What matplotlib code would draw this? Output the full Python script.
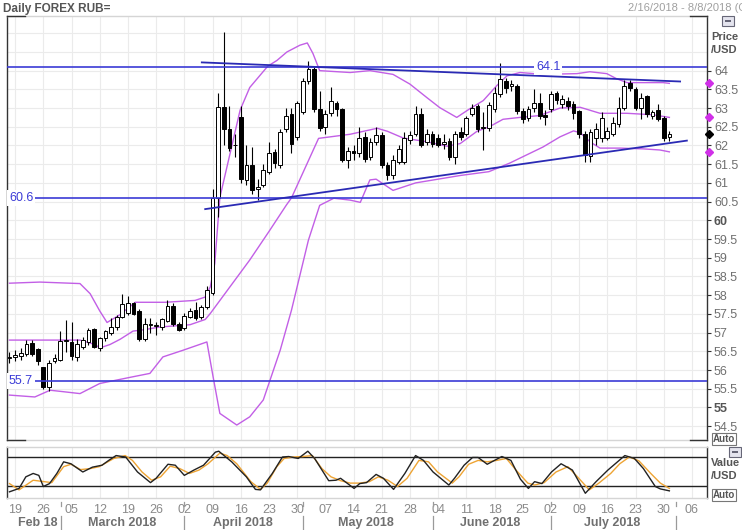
import numpy as np
import matplotlib.pyplot as plt
import matplotlib.transforms as mtransforms
from matplotlib.lines import Line2D
from matplotlib.patches import Rectangle

# trading-day index 0 = Fri 16 Feb 2018, last candle = Tue 31 Jul 2018
opens = [56.33, 56.36, 56.38, 56.43, 56.73, 56.56, 56.07, 55.55, 56.23, 56.27,
         56.77, 56.75, 56.34, 56.62, 56.74, 57.10, 56.58, 56.86, 56.98, 57.15,
         57.42, 57.53, 57.78, 57.58, 56.83, 57.20, 57.18, 57.16, 57.32, 57.72,
         57.23, 57.13, 57.41, 57.61, 57.41, 57.68, 58.05, 60.60, 63.03, 62.43,
         62.00, 62.76, 61.08, 61.48, 60.85, 60.95, 61.30, 61.83, 61.48, 62.43,
         62.84, 62.24, 62.90, 63.73, 64.05, 62.97, 62.50, 62.86, 63.13, 62.97,
         61.62, 61.84, 61.80, 62.24, 61.70, 62.10, 62.27, 61.48, 61.20, 61.56,
         61.56, 62.15, 62.30, 62.84, 62.10, 62.30, 62.19, 62.05, 62.13, 61.70,
         62.37, 62.30, 62.84, 63.05, 62.48, 62.48, 62.97, 63.38, 63.73, 63.60,
         63.60, 62.92, 62.73, 63.00, 63.13, 62.82, 62.97, 63.40, 63.10, 63.20,
         63.10, 62.92, 62.32, 61.73, 62.20, 62.19, 62.20, 62.30, 62.57, 63.00,
         63.68, 63.50, 63.00, 63.32, 62.80, 62.95, 62.73, 62.24]
closes = [56.36, 56.39, 56.46, 56.70, 56.43, 56.23, 55.55, 56.18, 56.32, 56.77,
          56.78, 56.37, 56.69, 56.81, 57.07, 56.61, 56.86, 57.04, 57.14, 57.42,
          57.77, 57.78, 57.51, 56.83, 57.23, 57.20, 57.18, 57.35, 57.72, 57.23,
          57.08, 57.45, 57.57, 57.38, 57.68, 58.13, 60.60, 63.03, 62.43, 61.92,
          62.02, 61.10, 61.48, 60.80, 60.90, 61.35, 61.80, 61.52, 62.37, 62.78,
          62.05, 63.13, 63.73, 64.05, 62.97, 62.46, 62.85, 63.19, 62.97, 61.62,
          61.84, 61.80, 62.20, 61.65, 62.10, 62.27, 61.48, 61.20, 61.60, 61.90,
          62.20, 62.28, 62.84, 62.02, 62.30, 62.05, 62.02, 62.10, 61.70, 62.30,
          62.24, 62.73, 63.00, 62.43, 62.48, 63.08, 63.40, 63.78, 63.54, 63.65,
          62.92, 62.70, 62.97, 63.13, 62.78, 62.76, 63.38, 63.22, 63.24, 63.05,
          62.86, 62.32, 61.75, 62.37, 62.43, 62.73, 62.40, 62.60, 63.00, 63.60,
          63.54, 63.00, 63.27, 62.84, 62.90, 62.70, 62.19, 62.32]
highs = [56.48, 56.53, 56.58, 56.80, 56.80, 56.58, 56.08, 56.28, 56.43, 57.04,
         57.34, 57.28, 56.83, 56.88, 57.13, 57.13, 56.88, 57.08, 57.38, 57.48,
         58.04, 57.98, 57.83, 57.63, 57.38, 57.38, 57.28, 57.38, 57.88, 57.78,
         57.28, 57.53, 57.66, 57.83, 57.73, 58.25, 60.85, 63.40, 65.04, 63.05,
         62.30, 63.05, 62.00, 61.95, 61.10, 61.50, 62.10, 61.90, 62.45, 63.00,
         63.00, 63.20, 63.80, 64.27, 64.10, 63.45, 62.95, 63.55, 63.20, 63.00,
         61.95, 62.00, 62.50, 62.35, 62.20, 62.50, 62.35, 61.55, 61.75, 62.00,
         62.35, 62.40, 63.05, 63.00, 62.45, 62.40, 62.30, 62.30, 62.20, 62.40,
         62.50, 62.80, 63.10, 63.10, 62.90, 63.15, 63.55, 64.20, 63.80, 63.75,
         63.65, 63.00, 63.05, 63.50, 63.40, 62.95, 63.45, 63.45, 63.35, 63.30,
         63.20, 62.95, 62.40, 62.45, 62.60, 62.90, 62.50, 62.75, 63.30, 63.75,
         63.75, 63.55, 63.40, 63.35, 62.95, 63.10, 62.78, 62.40]
lows = [56.18, 56.23, 56.28, 56.38, 56.38, 56.13, 55.50, 55.43, 56.18, 56.23,
        56.48, 56.28, 56.23, 56.56, 56.68, 56.58, 56.50, 56.78, 56.93, 57.08,
        57.38, 57.48, 57.46, 56.78, 56.78, 56.98, 56.93, 57.08, 57.28, 57.18,
        57.03, 57.08, 57.38, 57.33, 57.36, 57.63, 58.00, 60.10, 62.02, 61.85,
        61.70, 61.00, 60.95, 60.70, 60.54, 60.90, 61.25, 61.40, 61.40, 62.35,
        61.80, 62.15, 62.85, 63.65, 62.90, 62.40, 62.30, 62.80, 62.80, 61.55,
        61.40, 61.60, 61.70, 61.55, 61.60, 62.00, 61.40, 61.08, 61.10, 61.50,
        61.50, 62.05, 62.25, 61.95, 62.00, 61.95, 61.95, 61.90, 61.60, 61.50,
        62.15, 62.25, 62.80, 62.35, 61.89, 62.40, 62.90, 63.30, 63.40, 63.45,
        62.85, 62.60, 62.65, 62.90, 62.70, 62.55, 62.90, 63.10, 63.00, 62.95,
        62.70, 62.20, 61.56, 61.56, 62.00, 62.10, 62.15, 62.25, 62.50, 62.95,
        63.45, 62.95, 62.70, 62.75, 62.70, 62.65, 62.12, 62.12]

# Bollinger bands (day index, value)
bb_upper_idx = [0, 5.4, 12.5, 14.3, 16.0, 17.3, 19.6, 22.3, 27.6, 32.9, 34.7, 35.6, 36.4,
                37.3, 40.9, 42.6, 45.8, 47.4, 49.2, 51.5, 52.8, 53.8, 55.0, 60.4, 63.9,
                68.0, 71.0, 74.0, 76.3, 79.3, 81.6, 84.0, 86.4, 88.2, 90.5, 94.6, 100.6,
                102.9, 105.9, 107.7, 109.5, 115.9, 117]
bb_upper = [58.32, 58.35, 58.31, 58.04, 57.58, 57.27, 57.48, 57.81, 57.81, 57.86, 57.95, 58.22,
            58.85, 60.61, 62.95, 63.55, 64.12, 64.27, 64.50, 64.68, 64.74, 64.46, 64.00, 63.95,
            64.00, 63.90, 63.64, 63.28, 63.01, 62.75, 62.98, 63.20, 63.60, 63.86, 63.95, 63.90,
            63.92, 63.97, 63.92, 63.78, 63.68, 63.68, 63.66]
bb_mid_idx = [0, 9.0, 12.5, 15.2, 16.0, 17.8, 19.6, 21.9, 24.0, 26.7, 32.0, 34.7, 35.6,
              42.6, 46.0, 49.1, 50.0, 54.8, 60.4, 65.2, 67.0, 69.8, 74.0, 77.6, 79.9, 82.9,
              85.2, 87.5, 90.5, 94.0, 97.6, 101.2, 104.7, 109.5, 114.1, 117]
bb_mid = [56.80, 56.80, 56.80, 56.68, 56.59, 56.68, 56.82, 57.04, 57.08, 57.15, 57.21, 57.35,
          57.51, 58.94, 59.70, 60.41, 60.60, 62.19, 62.30, 62.46, 62.38, 62.20, 62.10, 61.98,
          62.05, 62.38, 62.51, 62.70, 62.75, 62.80, 63.00, 63.02, 62.86, 62.86, 62.82, 62.75]
bb_lower_idx = [0, 4.5, 7.2, 9.6, 12.5, 16.0, 21.9, 24.9, 27.2, 30.8, 35.0, 36.1, 37.3,
                40.3, 42.6, 45.0, 48.0, 50.0, 53.0, 55.0, 57.5, 60.4, 62.2, 63.9, 65.0,
                68.0, 72.0, 76.0, 80.0, 85.0, 88.7, 94.6, 97.6, 100.0, 101.2, 103.0,
                104.7, 108.2, 112.3, 115.3, 117]
bb_lower = [55.33, 55.28, 55.46, 55.42, 55.37, 55.64, 55.82, 55.91, 56.35, 56.53, 56.75,
            55.82, 54.84, 54.53, 54.75, 55.20, 56.53, 57.60, 59.47, 60.40, 60.59, 60.54,
            60.48, 61.08, 61.10, 60.80, 61.00, 61.10, 61.20, 61.30, 61.53, 61.96, 62.23,
            62.39, 62.34, 62.09, 61.93, 61.93, 61.91, 61.88, 61.83]

# level lines and trend lines
levels = [64.1, 60.6, 55.7]
trend_top = ([34.1, 118.9], [64.22, 63.71])
trend_bottom = ([34.7, 120.1], [60.30, 62.13])

# stochastic %K / %D
stoch_k_idx = [0, 1.7, 2.9, 4.2, 5.2, 6.0, 7.1, 8.4, 9.6, 10.9, 13.0, 14.7, 16.4, 17.6,
               18.9, 20.6, 22.7, 25.0, 26.0, 28.1, 29.4, 31.0, 32.7, 34.4, 36.5, 37.1,
               39.4, 42.0, 43.6, 44.5, 46.6, 48.4, 49.5, 51.2, 52.9, 54.1, 56.6, 57.9,
               58.7, 61.1, 62.1, 63.3, 65.0, 66.3, 68.1, 70.1, 72.0, 73.4, 75.1, 77.9,
               78.9, 80.6, 82.1, 83.1, 84.7, 87.3, 88.9, 90.6, 92.0, 93.1, 94.4, 96.1,
               97.8, 99.8, 102.1, 104.0, 106.1, 107.8, 109.1, 110.8, 112.4, 114.5, 115.4, 117.0]
stoch_k = [8, 15, 39, 46, 42, 19, 25, 46, 70, 66, 49, 59, 63, 73, 83, 80, 49, 27, 36, 65,
           63, 42, 53, 63, 90, 92, 70, 39, 13, 12, 46, 80, 81, 77, 92, 77, 31, 32, 36, 15,
           25, 27, 44, 36, 13, 46, 83, 73, 49, 22, 36, 63, 79, 79, 65, 81, 73, 34, 15, 29,
           25, 49, 66, 53, 5, 29, 53, 70, 83, 77, 56, 19, 14, 10]
stoch_d_idx = [0, 1.7, 4.2, 7.5, 9.6, 10.9, 12.6, 14.3, 15.9, 18.5, 20.5, 21.8, 23.5,
               25.2, 26.8, 28.5, 30.2, 31.9, 33.6, 35.2, 37.3, 38.6, 40.3, 42.8, 44.5,
               45.7, 47.4, 48.7, 50.3, 52.0, 53.7, 55.4, 57.0, 58.7, 60.4, 62.1, 63.8,
               65.4, 67.1, 68.8, 70.5, 72.6, 74.3, 75.9, 78.5, 79.7, 81.4, 83.1, 84.7,
               86.4, 88.1, 89.8, 91.9, 93.1, 94.8, 96.9, 99.0, 100.7, 102.8, 104.5, 106.6,
               108.2, 109.9, 111.6, 113.7, 115.4, 117.0]
stoch_d = [25, 12, 32, 27, 60, 65, 54, 56, 60, 77, 83, 73, 49, 32, 39, 61, 56, 46, 53, 66,
           88, 83, 66, 29, 13, 26, 60, 77, 80, 81, 83, 56, 39, 31, 26, 26, 29, 39, 32, 19,
           36, 73, 70, 49, 26, 39, 65, 73, 70, 73, 77, 53, 26, 22, 27, 49, 60, 39, 12, 26,
           46, 66, 80, 72, 46, 26, 15]

# x axis: Mondays (day index) and their labels
week_idx = [1, 6, 11, 16, 21, 26, 31, 36, 41, 46, 51, 56, 61, 66, 71, 76, 81, 86, 91, 96,
            101, 106, 111, 116, 121]
week_lbl = ['19', '26', '05', '12', '19', '26', '02', '09', '16', '23', '30', '07', '14',
            '21', '28', '04', '11', '18', '25', '02', '09', '16', '23', '30', '06']
month_lbl = ['Feb 18', 'March 2018', 'April 2018', 'May 2018', 'June 2018', 'July 2018']
month_pos = [5.1, 20.0, 41.4, 63.2, 85.2, 106.8]
month_sep = [9.06, 31.0, 52.0, 75.1, 96.0, 118.1]

W, H = 742, 530
plt.rcParams['font.family'] = ['Liberation Sans', 'DejaVu Sans']
fig = plt.figure(figsize=(W / 100, H / 100), dpi=100)


def fx(px):
    return px / W


def fy(py):
    return 1 - py / H


ax = fig.add_axes([fx(7), fy(440), fx(700), 424 / H])
ax2 = fig.add_axes([fx(7), fy(498), fx(700), 51 / H])

xmin, xmax = -0.44, 123.67
BLUE = '#3b3bd6'
TREND = '#2a2ab4'
PURPLE = '#c25fe6'
GRID = '#ebebeb'

# ---- main price panel
for v in np.arange(54.5, 65.01, 0.5):
    ax.axhline(v, color=GRID, lw=0.8, zorder=0)
for w in week_idx:
    ax.axvline(w, color=GRID, lw=0.8, zorder=0)

o = np.array(opens)
c = np.array(closes)
xs = np.arange(len(o))
ax.vlines(xs, lows, highs, color='black', lw=0.8, zorder=3)
body_bot = np.minimum(o, c)
body_h = np.maximum(np.abs(c - o), 0.025)
fills = ['white' if cc >= oo else 'black' for oo, cc in zip(o, c)]
ax.bar(xs, body_h, bottom=body_bot, width=0.66, color=fills, edgecolor='black',
       linewidth=0.7, zorder=4)

ax.plot(bb_upper_idx, bb_upper, color=PURPLE, lw=1.0, zorder=2)
ax.plot(bb_mid_idx, bb_mid, color=PURPLE, lw=1.0, zorder=2)
ax.plot(bb_lower_idx, bb_lower, color=PURPLE, lw=1.0, zorder=2)

for lv in levels:
    ax.axhline(lv, color=BLUE, lw=1.2, zorder=5)
ax.plot(*trend_top, color=TREND, lw=1.3, zorder=5)
ax.plot(*trend_bottom, color=TREND, lw=1.3, zorder=5)

lbl_kw = dict(color=BLUE, fontsize=9, va='center', zorder=6,
              bbox=dict(fc='white', ec='none', pad=1.5))
ax.text(95.5, 64.1, '64.1', ha='center', **lbl_kw)
ax.text(-0.1, 60.6, '60.6', ha='left', **lbl_kw)
ax.text(-0.1, 55.7, '55.7', ha='left', **lbl_kw)

ax.set_xlim(xmin, xmax)
ax.set_ylim(54.13, 65.46)
ax.set_xticks(week_idx)
ax.tick_params(axis='x', length=0, labelbottom=False)
ax.yaxis.tick_right()
yt = np.arange(54.5, 64.01, 0.5)
ax.set_yticks(yt)
ax.set_yticklabels(['%g' % v for v in yt])
ax.tick_params(axis='y', direction='out', length=3, width=0.8, color='#333333',
               labelsize=9, labelcolor='#707070', pad=2)
for t in ax.get_yticklabels():
    if t.get_text() in ('55', '60'):
        t.set_fontweight('bold')
        t.set_color('#555555')

# markers at the right edge: band ends and last close
ax.plot([xmax + 0.3] * 3, [bb_upper[-1], bb_mid[-1], bb_lower[-1]], 'D', color='#d030e8',
        ms=4, clip_on=False, zorder=7)
ax.plot([xmax + 0.3], [closes[-1]], 'D', color='black', ms=4, clip_on=False, zorder=7)

# ---- stochastic panel
for w in week_idx:
    ax2.axvline(w, color=GRID, lw=0.8, zorder=0)
ax2.axhline(80, color='#222222', lw=1.0, zorder=1)
ax2.axhline(20, color='#222222', lw=1.0, zorder=1)
ax2.plot(stoch_d_idx, stoch_d, color='#eea434', lw=1.0, zorder=2)
ax2.plot(stoch_k_idx, stoch_k, color='#222222', lw=1.0, zorder=3)
ax2.set_xlim(xmin, xmax)
ax2.set_ylim(-4.8, 100.7)
ax2.set_yticks([])
ax2.set_xticks(week_idx)
ax2.set_xticklabels(week_lbl)
ax2.tick_params(axis='x', length=0, labelsize=9, labelcolor='#8a8a8a', pad=4)

for a in (ax, ax2):
    for s in ('left', 'right'):
        a.spines[s].set_color('#333333')
        a.spines[s].set_linewidth(1.0)
    for s in ('top', 'bottom'):
        a.spines[s].set_color('#d5d5d5')
        a.spines[s].set_linewidth(1.0)

# corner stubs of the price panel
for py in (16, 440):
    fig.add_artist(Line2D([fx(7), fx(25)], [fy(py), fy(py)], color='#333333', lw=1.0))
    fig.add_artist(Line2D([fx(690), fx(707)], [fy(py), fy(py)], color='#333333', lw=1.0))

# month row
trans = mtransforms.blended_transform_factory(ax2.transData, fig.transFigure)
for name, pos in zip(month_lbl, month_pos):
    ax2.text(pos, fy(523), name, transform=trans, ha='center', va='center',
             fontsize=9, fontweight='bold', color='#707070', clip_on=False)
for sp in month_sep:
    ax2.add_artist(Line2D([sp, sp], [fy(516), fy(530)], transform=trans,
                          color='#9a9a9a', lw=0.9, clip_on=False))
    ax2.add_artist(Line2D([sp, sp], [fy(502), fy(506)], transform=trans,
                          color='#9a9a9a', lw=0.9, clip_on=False))

# header texts
fig.text(fx(3), fy(9), 'Daily FOREX RUB=', fontsize=8.5, fontweight='bold',
         color='#555555', va='center', ha='left')
fig.text(fx(628), fy(8), '2/16/2018 - 8/8/2018 (GM', fontsize=8,
         color='#a0a0a0', va='center', ha='left')

# right-hand panel captions
fig.text(fx(711), fy(32), 'Price\n/USD', fontsize=8, fontweight='bold',
         color='#555555', va='top', ha='left', linespacing=1.35)
fig.text(fx(711), fy(458), 'Value\n/USD', fontsize=8, fontweight='bold',
         color='#555555', va='top', ha='left', linespacing=1.35)
box_kw = dict(fc='white', ec='#777777', lw=0.8, pad=0.8)
fig.text(fx(713), fy(439), 'Auto', fontsize=7, fontweight='bold', color='#555555',
         va='center', ha='left', bbox=box_kw)
fig.text(fx(713), fy(495), 'Auto', fontsize=7, fontweight='bold', color='#555555',
         va='center', ha='left', bbox=box_kw)
for (px, py) in ((728, 21), (735, 452)):
    fig.add_artist(Rectangle((fx(px - 6), fy(py + 5)), fx(12), 10 / H,
                             fc='#e4e4ee', ec='#666677', lw=0.8))
    fig.add_artist(Rectangle((fx(px - 3), fy(py + 1)), fx(6), 2 / H,
                             fc='#666677', ec='none'))

fig.savefig('out.png', dpi=100)
